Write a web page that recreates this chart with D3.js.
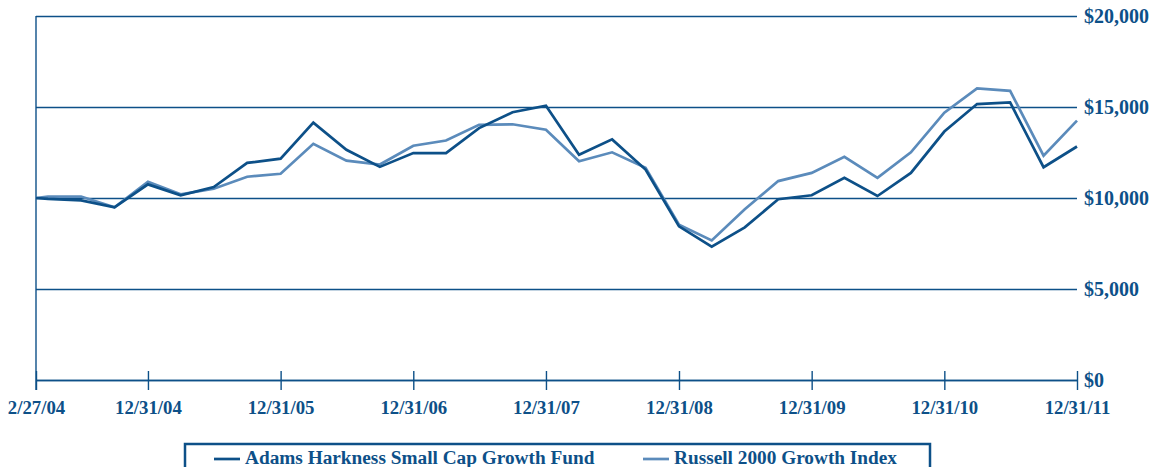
<!DOCTYPE html>
<html>
<head>
<meta charset="utf-8">
<script src="https://cdn.jsdelivr.net/npm/d3@7"></script>
<style>
  body { margin: 0; background: #fff; }
  svg { display: block; font-family: "Liberation Serif", "Times New Roman", serif; font-weight: bold; }
</style>
</head>
<body>
<div id="chart"></div>
<script>
const dates = [
  "2004-02-27", "2004-03-31", "2004-06-30", "2004-09-30", "2004-12-31",
  "2005-03-31", "2005-06-30", "2005-09-30", "2005-12-31",
  "2006-03-31", "2006-06-30", "2006-09-30", "2006-12-31",
  "2007-03-31", "2007-06-30", "2007-09-30", "2007-12-31",
  "2008-03-31", "2008-06-30", "2008-09-30", "2008-12-31",
  "2009-03-31", "2009-06-30", "2009-09-30", "2009-12-31",
  "2010-03-31", "2010-06-30", "2010-09-30", "2010-12-31",
  "2011-03-31", "2011-06-30", "2011-09-30", "2011-12-31"
];
const fundValues = [
  10000, 9950, 9870, 9490, 10750,
  10150, 10600, 11930, 12160,
  14140, 12650, 11710, 12470,
  12470, 13840, 14710, 15070,
  12380, 13220, 11560, 8440,
  7330, 8390, 9930, 10150,
  11110, 10110, 11380, 13650,
  15160, 15250, 11690, 12830
];
const indexValues = [
  10000, 10080, 10080, 9490, 10890,
  10200, 10510, 11170, 11330,
  12980, 12050, 11840, 12870,
  13160, 14020, 14050, 13750,
  12020, 12510, 11660, 8530,
  7670, 9380, 10930, 11380,
  12260, 11110, 12510, 14690,
  16020, 15890, 12330, 14250
];
const xTickDates = ["2004-02-27", "2004-12-31", "2005-12-31", "2006-12-31", "2007-12-31",
  "2008-12-31", "2009-12-31", "2010-12-31", "2011-12-31"];
const xTickLabels = ["2/27/04", "12/31/04", "12/31/05", "12/31/06", "12/31/07",
  "12/31/08", "12/31/09", "12/31/10", "12/31/11"];
const yTicks = [0, 5000, 10000, 15000, 20000];
const seriesNames = ["Adams Harkness Small Cap Growth Fund", "Russell 2000 Growth Index"];

const width = 1158;
const height = 467;
const dark = "#0d5088";
const light = "#5b8bbb";
const parse = d3.timeParse("%Y-%m-%d");

const x = d3.scaleTime()
  .domain([parse(xTickDates[0]), parse(xTickDates[xTickDates.length - 1])])
  .range([36, 1077]);
const y = d3.scaleLinear().domain([0, 20000]).range([380, 16]);

const svg = d3.select("#chart").append("svg")
  .attr("width", width)
  .attr("height", height);

// horizontal gridlines + right-hand labels
const yAxis = d3.axisRight(y)
  .tickValues(yTicks)
  .tickSize(x.range()[1] - x.range()[0])
  .tickFormat(d => "$" + d3.format(",")(d));

svg.append("g")
  .attr("transform", `translate(${x.range()[0]},0)`)
  .call(yAxis)
  .call(g => g.select(".domain").remove())
  .call(g => g.selectAll(".tick line").attr("stroke", dark).attr("stroke-width", 1.4))
  .call(g => g.selectAll(".tick text")
    .attr("x", x.range()[1] - x.range()[0] + 7)
    .attr("dy", "0.33em")
    .attr("fill", dark)
    .attr("font-size", 20)
    .attr("font-family", "Liberation Serif")
    .attr("font-weight", "bold"));

// left vertical line
svg.append("line")
  .attr("x1", x.range()[0]).attr("x2", x.range()[0])
  .attr("y1", y(20000)).attr("y2", y(0) + 10)
  .attr("stroke", dark).attr("stroke-width", 1.4);

// x axis with crossing ticks
const tickDates = xTickDates.map(parse);
const xAxis = d3.axisBottom(x)
  .tickValues(tickDates)
  .tickSize(10)
  .tickSizeOuter(0)
  .tickFormat((d, i) => xTickLabels[i]);

svg.append("g")
  .attr("transform", `translate(0,${y(0)})`)
  .call(xAxis)
  .call(g => g.select(".domain").attr("stroke", dark).attr("stroke-width", 1.4))
  .call(g => g.selectAll(".tick line").attr("y1", -9).attr("stroke", dark).attr("stroke-width", 1.4))
  .call(g => g.selectAll(".tick text")
    .attr("y", 21)
    .attr("fill", dark)
    .attr("font-size", 18.8)
    .attr("font-family", "Liberation Serif")
    .attr("font-weight", "bold"));

// series lines
const line = d3.line()
  .x(d => x(d.date))
  .y(d => y(d.value));

const series = [
  {name: seriesNames[1], color: light, values: indexValues},
  {name: seriesNames[0], color: dark, values: fundValues}
];

svg.append("g")
  .selectAll("path")
  .data(series)
  .join("path")
  .attr("fill", "none")
  .attr("stroke", d => d.color)
  .attr("stroke-width", 2.7)
  .attr("stroke-linejoin", "miter")
  .attr("d", d => line(d.values.map((v, i) => ({date: parse(dates[i]), value: v}))));

// legend box (runs off the bottom edge)
const legend = svg.append("g");
legend.append("rect")
  .attr("x", 185).attr("y", 444)
  .attr("width", 745).attr("height", 40)
  .attr("fill", "none")
  .attr("stroke", dark)
  .attr("stroke-width", 2.5);

const legendItems = [
  {name: seriesNames[0], color: dark, x: 214},
  {name: seriesNames[1], color: light, x: 643}
];

const li = legend.selectAll("g.item")
  .data(legendItems)
  .join("g")
  .attr("class", "item")
  .attr("transform", d => `translate(${d.x},459)`);

li.append("line")
  .attr("x1", 0).attr("x2", 26)
  .attr("stroke", d => d.color)
  .attr("stroke-width", 2.7);

li.append("text")
  .attr("x", 31)
  .attr("y", 5)
  .attr("fill", dark)
  .attr("font-size", 19.3)
  .text(d => d.name);
</script>
</body>
</html>
